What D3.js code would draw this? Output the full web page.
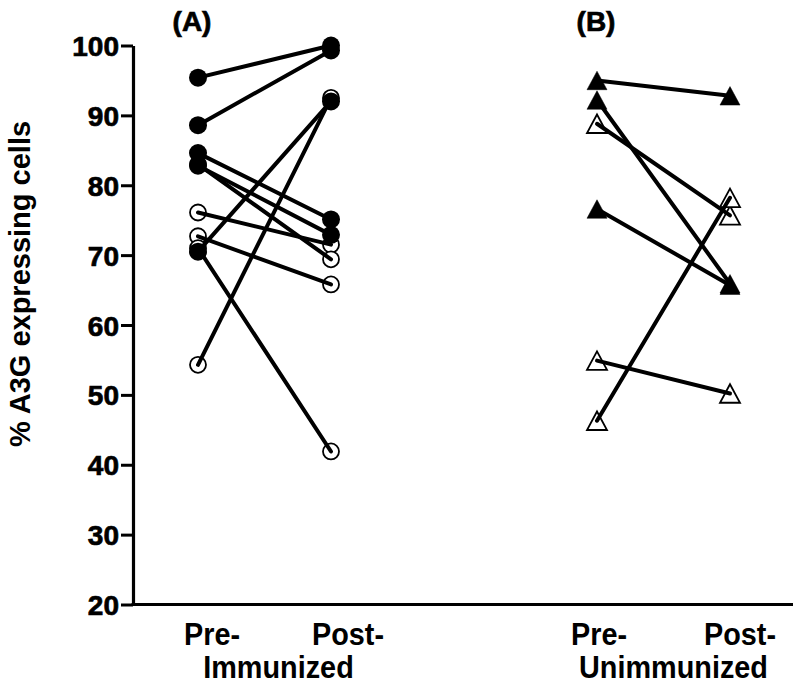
<!DOCTYPE html>
<html>
<head>
<meta charset="utf-8">
<script src="https://cdn.jsdelivr.net/npm/d3@7"></script>
<style>
  html, body { margin: 0; padding: 0; background: #fff; }
  svg text { font-family: "Liberation Sans", Arial, sans-serif; font-weight: bold; fill: #000; }
</style>
</head>
<body>
<svg id="chart" width="800" height="684"></svg>
<script>
// ---- data ----
const positions = ["A-Pre", "A-Post", "gap", "B-Pre", "B-Post"];
const yTicks = [20, 30, 40, 50, 60, 70, 80, 90, 100];
const groupLabels = ["(A)", "(B)"];
const timeLabels = ["Pre-", "Post-", "Pre-", "Post-"];
const groupNames = ["Immunized", "Unimmunized"];
const yLabel = "% A3G expressing cells";

// [pre, post] pairs
const immunizedFilled = [[95.4, 100.0], [88.6, 99.3], [84.6, 75.1], [82.8, 72.9], [70.5, 92.0]];
const immunizedOpen   = [[76.1, 71.5], [72.7, 65.8], [54.3, 92.5], [83.0, 69.4], [71.0, 41.9]];
const unimmFilled     = [[95.0, 92.8], [92.2, 65.9], [76.6, 65.7]];
const unimmOpen       = [[88.8, 75.7], [54.9, 50.2], [46.3, 78.2]];

// ---- layout ----
const svg = d3.select("#chart");
const x = d3.scalePoint().domain(positions).range([198, 730]);
const y = d3.scaleLinear().domain([20, 100]).range([604.5, 45.5]);
const axisLeftX = 133;
const axisRightX = 793;

// axes
const yAxis = d3.axisLeft(y).tickValues(yTicks).tickSize(12).tickSizeOuter(0).tickPadding(2);
const gy = svg.append("g").attr("transform", `translate(${axisLeftX},0)`).call(yAxis);
gy.select(".domain").attr("stroke", "#000").attr("stroke-width", 3.2);
gy.selectAll(".tick line").attr("stroke", "#000").attr("stroke-width", 3);
gy.selectAll(".tick text")
  .style("font-family", "'Liberation Sans', Arial, sans-serif")
  .style("font-weight", "bold")
  .style("font-size", "28px")
  .attr("fill", "#000")
  .attr("stroke", "#000").attr("stroke-width", 0.7)
  .attr("dy", "0.36em");

svg.append("line")
  .attr("x1", axisLeftX - 1.5).attr("x2", axisRightX)
  .attr("y1", y(20)).attr("y2", y(20))
  .attr("stroke", "#000").attr("stroke-width", 3.2);

// y label
svg.append("text")
  .attr("transform", `translate(30,284) rotate(-90)`)
  .attr("text-anchor", "middle")
  .style("font-size", "29px")
  .text(yLabel);

// group labels
svg.append("text").attr("x", x("A-Pre") - 6).attr("y", 31).attr("text-anchor", "middle")
  .attr("stroke", "#000").attr("stroke-width", 0.7)
  .style("font-size", "28px").text(groupLabels[0]);
svg.append("text").attr("x", x("B-Pre") - 1).attr("y", 31).attr("text-anchor", "middle")
  .attr("stroke", "#000").attr("stroke-width", 0.7)
  .style("font-size", "28px").text(groupLabels[1]);

// category labels (slightly condensed, taller glyphs)
const sx = 0.93;
function condensedText(cx, cy, str) {
  svg.append("text")
    .attr("transform", `translate(${cx},${cy}) scale(${sx},1)`)
    .attr("text-anchor", "middle")
    .style("font-size", "31px")
    .text(str);
}
const catKeys = ["A-Pre", "A-Post", "B-Pre", "B-Post"];
const catOffsets = [14, 17, 2, 10];
catKeys.forEach((k, i) => {
  condensedText(x(k) + catOffsets[i], 645, timeLabels[i]);
});
condensedText((x("A-Pre") + x("A-Post")) / 2 + 14, 678, groupNames[0]);
condensedText((x("B-Pre") + x("B-Post")) / 2 + 10, 678, groupNames[1]);

// markers
const triW = 20, triH = 18.5;
const triPath = `M0,${-triH / 2}L${triW / 2},${triH / 2}L${-triW / 2},${triH / 2}Z`;

function drawGroup(data, preKey, postKey, shape, filled) {
  const pts = [];
  data.forEach(d => {
    pts.push({ x: x(preKey), y: y(d[0]) });
    pts.push({ x: x(postKey), y: y(d[1]) });
  });
  const g = svg.append("g");
  if (shape === "circle") {
    g.selectAll("circle").data(pts).join("circle")
      .attr("cx", p => p.x).attr("cy", p => p.y)
      .attr("r", filled ? 9 : 8)
      .attr("fill", filled ? "#000" : "#fff")
      .attr("stroke", "#000").attr("stroke-width", filled ? 0 : 1.8);
  } else {
    g.selectAll("path").data(pts).join("path")
      .attr("transform", p => `translate(${p.x},${p.y})`)
      .attr("d", triPath)
      .attr("fill", filled ? "#000" : "#fff")
      .attr("stroke", "#000").attr("stroke-width", filled ? 0.5 : 1.8)
      .attr("stroke-linejoin", "miter");
  }
}
function drawLines(data, preKey, postKey) {
  svg.append("g").selectAll("line").data(data).join("line")
    .attr("x1", x(preKey)).attr("x2", x(postKey))
    .attr("y1", d => y(d[0])).attr("y2", d => y(d[1]))
    .attr("stroke", "#000").attr("stroke-width", 4).attr("stroke-linecap", "round");
}

drawGroup(immunizedOpen, "A-Pre", "A-Post", "circle", false);
drawGroup(immunizedFilled, "A-Pre", "A-Post", "circle", true);
drawGroup(unimmOpen, "B-Pre", "B-Post", "triangle", false);
drawGroup(unimmFilled, "B-Pre", "B-Post", "triangle", true);
drawLines(immunizedOpen, "A-Pre", "A-Post");
drawLines(immunizedFilled, "A-Pre", "A-Post");
drawLines(unimmOpen, "B-Pre", "B-Post");
drawLines(unimmFilled, "B-Pre", "B-Post");
</script>
</body>
</html>
